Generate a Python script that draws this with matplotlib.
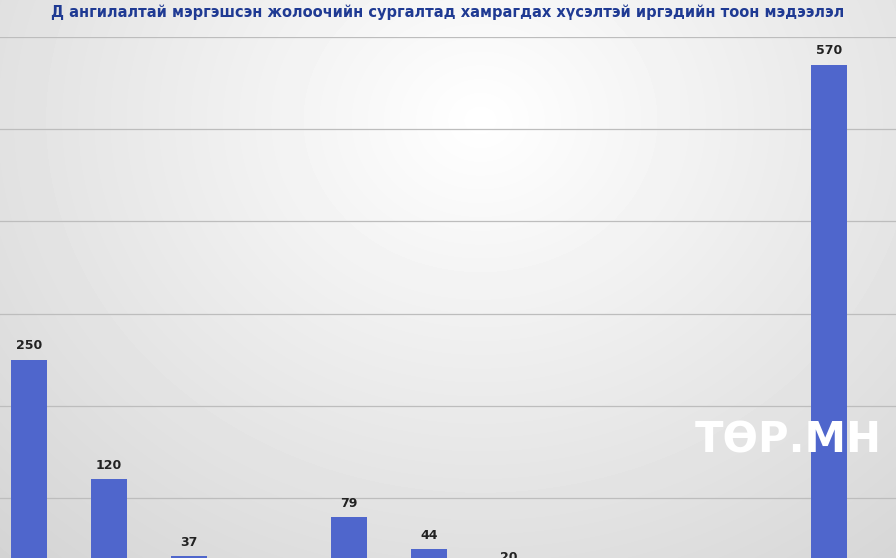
import matplotlib.pyplot as plt
import numpy as np

categories = [str(i) for i in range(1, 12)]
values = [250, 120, 37, 10, 79, 44, 20, 0, 0, 0, 570]

fig = plt.figure(figsize=(8.96, 5.58), dpi=100)

# background radial gradient
bg = fig.add_axes([0, 0, 1, 1])
yy, xx = np.mgrid[0:558, 0:896]
d = np.sqrt(((xx - 480) / 700.0) ** 2 + ((yy - 120) / 600.0) ** 2)
shade = np.clip(1.0 - 0.17 * d, 0.82, 1.0)
bg.imshow(shade, cmap='gray', vmin=0, vmax=1, aspect='auto')
bg.axis('off')

ax = fig.add_axes([-11 / 896, -32 / 558, 907 / 896, 553 / 558])
ax.patch.set_alpha(0)
x = np.arange(len(values))
ax.bar(x, values, width=0.45, color='#4f66cc', zorder=3)
for xi, v in zip(x, values):
    if v > 0:
        ax.text(xi, v + 8, str(v), ha='center', va='bottom', fontsize=9,
                fontweight='bold', color='#222222')
ax.set_xlim(-0.5, len(values) - 0.5 + 27 / 80)
ax.set_ylim(0, 600)
ax.set_yticks(range(0, 601, 100))
ax.yaxis.grid(True, color='#bdbdbd', linewidth=0.9, zorder=0)
ax.tick_params(left=False, bottom=False, labelleft=False, labelbottom=False)
for s in ax.spines.values():
    s.set_visible(False)

fig.text(0.5, 0.978, 'Д ангилалтай мэргэшсэн жолоочийн сургалтад хамрагдах хүсэлтэй иргэдийн тоон мэдээлэл',
         ha='center', va='center', fontsize=10.5, fontweight='bold', color='#1f3a93')

fig.text(0.88, 0.21, 'ТӨР.МН', ha='center', va='center', fontsize=30,
         fontweight='bold', color='white')

fig.savefig('out.png', dpi=100)
